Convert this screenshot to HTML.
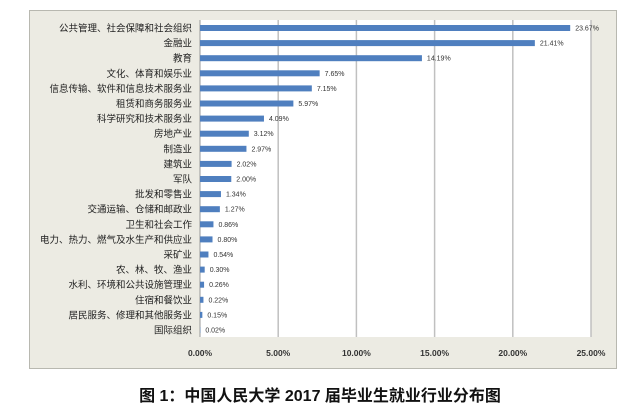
<!DOCTYPE html>
<html><head><meta charset="utf-8"><style>
body{margin:0;width:639px;height:416px;background:#fff;overflow:hidden}
</style></head><body>
<svg width="639" height="416" xmlns="http://www.w3.org/2000/svg" style="position:absolute;left:0;top:0">
<rect x="29.5" y="10.5" width="587" height="358" fill="#ecebe3" stroke="#b8b8b0"/>
<rect x="200" y="20" width="391" height="317" fill="#fff"/>
<g stroke="#c0c0c0" stroke-width="1.5">
<line x1="278.2" y1="20" x2="278.2" y2="337"/><line x1="356.4" y1="20" x2="356.4" y2="337"/>
<line x1="434.6" y1="20" x2="434.6" y2="337"/><line x1="512.8" y1="20" x2="512.8" y2="337"/>
<line x1="591" y1="20" x2="591" y2="337"/>
</g>
<line x1="200" y1="20" x2="200" y2="337" stroke="#999"/>
<g id="bars" fill="#4f7fbf"></g>
<g id="labs" font-family="Liberation Sans,Noto Sans CJK SC,sans-serif" font-size="9.5" fill="#222" text-anchor="end"></g>
<g id="vals" font-family="Liberation Sans,sans-serif" font-size="7" fill="#333"></g>
<g font-family="Liberation Sans,sans-serif" font-size="8.5" font-weight="bold" fill="#333" text-anchor="middle">
<text x="200" y="356">0.00%</text><text x="278.2" y="356">5.00%</text><text x="356.4" y="356">10.00%</text>
<text x="434.6" y="356">15.00%</text><text x="512.8" y="356">20.00%</text><text x="591" y="356">25.00%</text>
</g>
<text x="320" y="401" text-anchor="middle" font-family="Liberation Sans,Noto Sans CJK SC,sans-serif" font-size="16" font-weight="bold" fill="#111">图 1：中国人民大学 2017 届毕业生就业行业分布图</text>
</svg>
<script>
var d=[["公共管理、社会保障和社会组织",23.67],["金融业",21.41],["教育",14.19],["文化、体育和娱乐业",7.65],["信息传输、软件和信息技术服务业",7.15],["租赁和商务服务业",5.97],["科学研究和技术服务业",4.09],["房地产业",3.12],["制造业",2.97],["建筑业",2.02],["军队",2.00],["批发和零售业",1.34],["交通运输、仓储和邮政业",1.27],["卫生和社会工作",0.86],["电力、热力、燃气及水生产和供应业",0.80],["采矿业",0.54],["农、林、牧、渔业",0.30],["水利、环境和公共设施管理业",0.26],["住宿和餐饮业",0.22],["居民服务、修理和其他服务业",0.15],["国际组织",0.02]];
var ns="http://www.w3.org/2000/svg",b=document.getElementById("bars"),l=document.getElementById("labs"),v=document.getElementById("vals");
d.forEach(function(r,i){var y=28+15.1*i,w=r[1]*15.64;
var e=document.createElementNS(ns,"rect");e.setAttribute("x",200);e.setAttribute("y",y-3);e.setAttribute("width",w);e.setAttribute("height",6);b.appendChild(e);
var t=document.createElementNS(ns,"text");t.setAttribute("x",192);t.setAttribute("y",y+3.5);t.textContent=r[0];l.appendChild(t);
var u=document.createElementNS(ns,"text");u.setAttribute("x",200+w+5);u.setAttribute("y",y+2.5);u.textContent=r[1].toFixed(2)+"%";v.appendChild(u);});
</script>
</body></html>
